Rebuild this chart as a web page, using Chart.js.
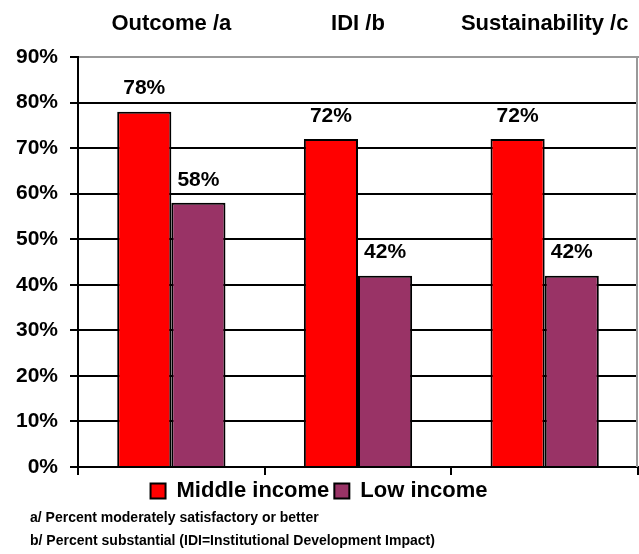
<!DOCTYPE html>
<html>
<head>
<meta charset="utf-8">
<script src="https://cdn.jsdelivr.net/npm/chart.js@4"></script>
<style>
  body { margin: 0; background: #fff; }
  #wrap { width: 639px; height: 554px; position: relative; }
</style>
</head>
<body>
<div id="wrap"><canvas id="myChart"></canvas></div>
<script>
// data
const categories = ["Outcome /a", "IDI /b", "Sustainability /c"];
const middleIncome = [78, 72, 72];
const lowIncome = [58, 42, 42];
const yTicks = [0, 10, 20, 30, 40, 50, 60, 70, 80, 90];
const footnotes = [
  "a/ Percent moderately satisfactory or better",
  "b/ Percent substantial (IDI=Institutional Development Impact)"
];

const FONT = "'Liberation Sans', Arial, sans-serif";

// labels above each bar
const barLabels = {
  id: "barLabels",
  afterDatasetsDraw(chart) {
    const ctx = chart.ctx;
    ctx.save();
    ctx.font = "bold 21px " + FONT;
    ctx.fillStyle = "#000";
    ctx.textAlign = "center";
    ctx.textBaseline = "middle";
    chart.data.datasets.forEach((ds, i) => {
      chart.getDatasetMeta(i).data.forEach((bar, j) => {
        ctx.fillText(ds.data[j] + "%", bar.x, bar.y - 23);
      });
    });
    ctx.restore();
  }
};

// grey right edge of plot + footnotes
const extras = {
  id: "extras",
  afterDraw(chart) {
    const ctx = chart.ctx;
    const a = chart.chartArea;
    ctx.save();
    ctx.strokeStyle = "#999";
    ctx.lineWidth = 2;
    ctx.beginPath();
    ctx.moveTo(a.right - 1, a.top);
    ctx.lineTo(a.right - 1, a.bottom);
    ctx.stroke();
    ctx.font = "bold 14px " + FONT;
    ctx.fillStyle = "#000";
    ctx.textBaseline = "middle";
    ctx.fillText(footnotes[0], 30, 518);
    ctx.fillText(footnotes[1], 30, 541);
    ctx.restore();
  }
};

new Chart(document.getElementById("myChart"), {
  type: "bar",
  data: {
    labels: categories,
    datasets: [
      {
        label: "Middle income",
        data: middleIncome,
        backgroundColor: "#FF0000",
        borderColor: "#000",
        borderWidth: 2,
        xAxisID: "x"
      },
      {
        label: "Low income",
        data: lowIncome,
        backgroundColor: "#993366",
        borderColor: "#000",
        borderWidth: 2,
        xAxisID: "x"
      }
    ]
  },
  options: {
    responsive: true,
    maintainAspectRatio: false,
    animation: false,
    devicePixelRatio: 1,
    layout: { padding: { top: 0, right: 1, bottom: 42, left: 0 } },
    datasets: { bar: { categoryPercentage: 0.58, barPercentage: 1 } },
    scales: {
      x: {
        position: "bottom",
        grid: { offset: true, drawOnChartArea: false, color: "#000", lineWidth: 2, tickLength: 8 },
        border: { color: "#000", width: 2 },
        ticks: { display: false },
        afterFit(scale) { scale.paddingLeft = 0; scale.paddingRight = 0; }
      },
      x2: {
        position: "top",
        labels: categories,
        grid: { display: false, drawTicks: false },
        border: { color: "#999", width: 2 },
        ticks: { color: "#000", font: { family: FONT, size: 22, weight: "bold" }, padding: 20, maxRotation: 0 },
        afterFit(scale) { scale.height = 57; scale.paddingLeft = 0; scale.paddingRight = 0; }
      },
      y: {
        min: 0,
        max: 90,
        afterBuildTicks(scale) { scale.ticks = yTicks.map(v => ({ value: v })); },
        afterFit(scale) { scale.width = 78; },
        grid: {
          color: c => (c.tick && c.tick.value === 90 ? "#999" : "#000"),
          lineWidth: 2,
          tickLength: 8,
          tickColor: "#000"
        },
        border: { color: "#000", width: 2 },
        ticks: {
          color: "#000",
          padding: 12,
          font: { family: FONT, size: 21, weight: "bold" },
          callback: v => v + "%"
        }
      }
    },
    plugins: {
      legend: {
        position: "bottom",
        labels: {
          color: "#000",
          font: { family: FONT, size: 22, weight: "bold" },
          boxWidth: 15,
          boxHeight: 15,
          padding: 5
        }
      },
      tooltip: { enabled: false }
    }
  },
  plugins: [barLabels, extras]
});
</script>
</body>
</html>
